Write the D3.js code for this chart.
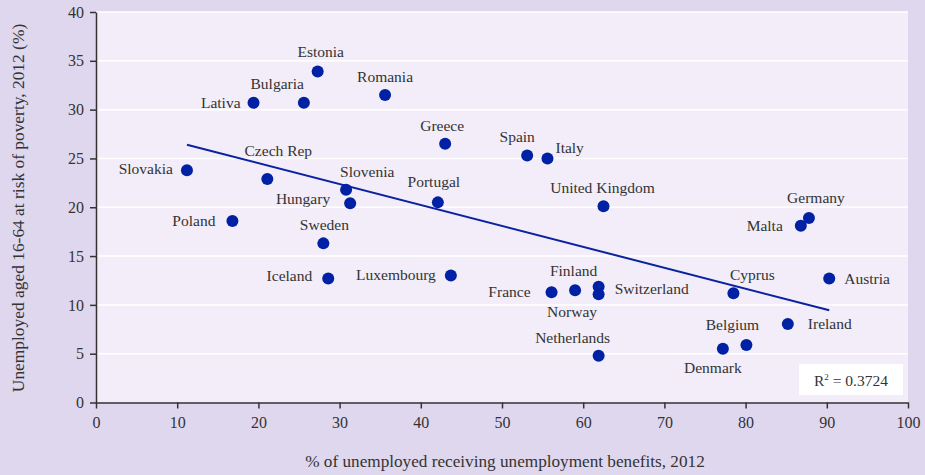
<!DOCTYPE html>
<meta charset="utf-8">
<style>
  html, body { margin: 0; padding: 0; background: #dfd7ee; }
  svg { display: block; }
  svg text { font-family: "Liberation Serif", "DejaVu Serif", serif; }
  .tick text { font-size: 16px; fill: #333; }
  .tick line, .domain { stroke: #333; stroke-width: 1.5px; }
</style>
<svg id="chart" width="925" height="475"></svg>
<script src="https://cdn.jsdelivr.net/npm/d3@7"></script>
<script>
  // data
  const countries = ["Slovakia", "Lativa", "Bulgaria", "Estonia", "Romania", "Czech Rep", "Poland",
    "Slovenia", "Hungary", "Greece", "Spain", "Italy", "Portugal", "United Kingdom", "Germany",
    "Malta", "Sweden", "Iceland", "Luxembourg", "France", "Norway", "Finland", "Switzerland",
    "Netherlands", "Cyprus", "Austria", "Ireland", "Belgium", "Denmark"];
  const benefits = [11.2, 19.4, 25.6, 27.3, 35.6, 21.1, 16.8,
    30.8, 31.3, 43.0, 53.1, 55.6, 42.1, 62.5, 87.8,
    86.8, 28.0, 28.6, 43.7, 56.1, 59.0, 61.9, 61.9,
    61.9, 78.5, 90.3, 85.2, 80.1, 77.2];
  const poverty = [23.8, 30.7, 30.7, 33.9, 31.5, 22.9, 18.6,
    21.8, 20.4, 26.5, 25.3, 25.0, 20.5, 20.1, 18.9,
    18.1, 16.3, 12.7, 13.0, 11.3, 11.5, 11.85, 11.1,
    4.8, 11.2, 12.7, 8.05, 5.9, 5.5];
  const trendSlope = -0.2143;
  const trendIntercept = 28.8;
  const rSquared = "0.3724";
  const xTicks = [0, 10, 20, 30, 40, 50, 60, 70, 80, 90, 100];
  const yTicks = [0, 5, 10, 15, 20, 25, 30, 35, 40];

  // label placement: dx, dy from the dot, anchor
  const labelPos = {
    "Slovakia": [-14, 4, "end"], "Lativa": [-13, 5, "end"], "Bulgaria": [0, -14, "end"],
    "Estonia": [3, -15, "middle"], "Romania": [0, -13, "middle"], "Czech Rep": [11, -23, "middle"],
    "Poland": [-17, 5, "end"], "Slovenia": [-6, -13, "start"], "Hungary": [-20, 1, "end"],
    "Greece": [-3, -13, "middle"], "Spain": [-10, -14, "middle"], "Italy": [8, -5, "start"],
    "Portugal": [-4, -15, "middle"], "United Kingdom": [-1, -13, "middle"], "Germany": [7, -15, "middle"],
    "Malta": [-18, 5, "end"], "Sweden": [1, -13, "middle"], "Iceland": [-16, 2, "end"],
    "Luxembourg": [-15, 4, "end"], "France": [-21, 5, "end"], "Norway": [-3, 27, "middle"],
    "Finland": [-25, -11, "middle"], "Switzerland": [16, 0, "start"], "Netherlands": [-26, -13, "middle"],
    "Cyprus": [19, -13, "middle"], "Austria": [15, 5, "start"], "Ireland": [20, 5, "start"],
    "Belgium": [-14, -15, "middle"], "Denmark": [-10, 24, "middle"]
  };

  const serif = "Liberation Serif, DejaVu Serif, serif";
  const svg = d3.select("#chart").attr("font-family", serif);
  const plotL = 96, plotR = 908, plotT = 12, plotB = 402.5;

  const x = d3.scaleLinear().domain([0, 100]).range([plotL, plotR]);
  const y = d3.scaleLinear().domain([0, 40]).range([plotB, plotT]);

  svg.append("rect").attr("width", 925).attr("height", 475).attr("fill", "#dfd7ee");
  svg.append("rect")
    .attr("x", plotL).attr("y", plotT)
    .attr("width", plotR - plotL).attr("height", plotB - plotT)
    .attr("fill", "#f2edf8");

  // gridlines
  svg.append("g").selectAll("line")
    .data(yTicks.filter(d => d > 0))
    .join("line")
    .attr("x1", plotL).attr("x2", plotR)
    .attr("y1", d => y(d)).attr("y2", d => y(d))
    .attr("stroke", "#fff").attr("stroke-width", 1.5);

  svg.append("g")
    .attr("transform", `translate(0,${plotB})`)
    .call(d3.axisBottom(x).tickValues(xTicks).tickSize(6).tickPadding(8).tickSizeOuter(0))
    .attr("font-family", serif).attr("font-size", 16);

  svg.append("g")
    .attr("transform", `translate(${plotL},0)`)
    .call(d3.axisLeft(y).tickValues(yTicks).tickSize(6).tickPadding(6).tickSizeOuter(0))
    .attr("font-family", serif).attr("font-size", 16);

  // trend line
  const x0 = d3.min(benefits), x1 = d3.max(benefits);
  svg.append("line")
    .attr("x1", x(x0)).attr("y1", y(trendIntercept + trendSlope * x0))
    .attr("x2", x(x1)).attr("y2", y(trendIntercept + trendSlope * x1))
    .attr("stroke", "#0a22a0").attr("stroke-width", 2);

  const pts = countries.map((c, i) => ({ name: c, bx: benefits[i], py: poverty[i] }));

  svg.append("g").selectAll("circle")
    .data(pts)
    .join("circle")
    .attr("cx", d => x(d.bx)).attr("cy", d => y(d.py))
    .attr("r", 6)
    .attr("fill", "#0021a3");

  svg.append("g").selectAll("text")
    .data(pts)
    .join("text")
    .attr("x", d => x(d.bx) + labelPos[d.name][0])
    .attr("y", d => y(d.py) + labelPos[d.name][1])
    .attr("text-anchor", d => labelPos[d.name][2])
    .attr("font-size", 15.5)
    .attr("fill", "#333")
    .text(d => d.name);

  // R squared box
  svg.append("rect")
    .attr("x", 799).attr("y", 364).attr("width", 104).attr("height", 31)
    .attr("fill", "#fff");
  const rt = svg.append("text")
    .attr("x", 851).attr("y", 386)
    .attr("text-anchor", "middle")
    .attr("font-size", 15.5).attr("fill", "#333");
  rt.append("tspan").text("R");
  rt.append("tspan").attr("font-size", 9).attr("dy", -6).text("2");
  rt.append("tspan").attr("dy", 6).text(" = " + rSquared);

  // axis titles
  svg.append("text")
    .attr("x", 505).attr("y", 467)
    .attr("text-anchor", "middle")
    .attr("font-size", 17.2).attr("fill", "#333")
    .text("% of unemployed receiving unemployment benefits, 2012");

  svg.append("text")
    .attr("transform", "translate(24,208) rotate(-90)")
    .attr("text-anchor", "middle")
    .attr("font-size", 17.4).attr("fill", "#333")
    .text("Unemployed aged 16-64 at risk of poverty, 2012 (%)");
</script>
